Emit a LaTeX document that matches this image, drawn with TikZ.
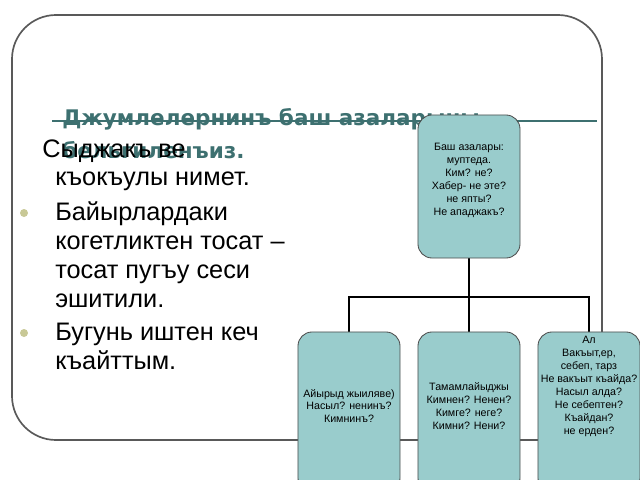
\documentclass[tikz,border=0pt]{standalone}
\usepackage{fontspec}
\setmainfont{Liberation Sans}
\newfontfamily\titlefont{DejaVu Sans}
\usetikzlibrary{positioning}
\definecolor{boxfill}{RGB}{153,204,204}
\definecolor{titleteal}{RGB}{61,112,112}
\definecolor{bulletkhaki}{RGB}{200,200,150}
\tikzset{
azabox/.style={draw=black!70, fill=boxfill, rounded corners=10pt, minimum width=2.55cm, line width=0.6pt},
azatext/.style={align=center, font=\fontsize{7.6}{9.2}\selectfont, inner sep=0pt},
bodytext/.style={anchor=base west, font=\fontsize{18}{20}\selectfont, inner sep=0pt},
titletext/.style={anchor=base west, text=titleteal, font=\titlefont\bfseries\fontsize{15.3}{20}\selectfont, inner sep=0pt},
link/.style={draw=black, line width=1.2pt},
}
\begin{document}
\begin{tikzpicture}[x=0.025cm, y=-0.025cm]
\useasboundingbox (0,0) rectangle (640,480);
% frame
\draw[black!65, line width=1.2pt, rounded corners=1.1cm] (12,15) rectangle (602,440);
\draw[titleteal, line width=1pt] (52,121) -- (597,121);
% title
\node[titletext] (title1) at (62,125) {Джумлелернинъ баш азаларыны};
\node[titletext] (title2) at (62,158) {бельгиленъиз.};
% body
\node[bodytext] (b1) at (42,157) {Сыджакъ ве};
\node[bodytext] (b2) at (55,185) {къокъулы нимет.};
\node[bodytext] (b3) at (55,220) {Байырлардаки};
\node[bodytext] (b4) at (55,249) {когетликтен тосат –};
\node[bodytext] (b5) at (55,278) {тосат пугъу  сеси};
\node[bodytext] (b6) at (55,307) {эшитили.};
\node[bodytext] (b7) at (55,340) {Бугунь иштен кеч};
\node[bodytext] (b8) at (55,369) {къайттым.};
\fill[bulletkhaki] (24,213) circle (4);
\fill[bulletkhaki] (24,333) circle (4);
% connectors
\coordinate (fork) at (469,297);
\draw[link] (469,258) -- (fork);
\draw[link] (349,332) -- (349,297) -- (589,297) -- (589,332);
\draw[link] (fork) -- (469,332);
% boxes
\node[azabox, minimum height=3.575cm] (main) at (469,186.5) {};
\node[azabox, minimum height=4cm] (left) at (349,412) {};
\node[azabox, minimum height=4cm] (mid) at (469,412) {};
\node[azabox, minimum height=4cm] (right) at (589,412) {};
\node[azatext, anchor=north] (maintext) at (469,143)
  {Баш азалары:\\муптеда.\\Ким? не?\\Хабер- не эте?\\не япты?\\Не ападжакъ?};
\node[azatext] (lefttext) at (349,406) {Айырыд жыиляве)\\Насыл? ненинъ?\\Кимнинъ?};
\node[azatext] (midtext) at (469,406) {Тамамлайыджы\\Кимнен? Ненен?\\Кимге? неге?\\Кимни? Нени?};
\node[azatext, anchor=north] (righttext) at (589,336)
  {Ал\\Вакъыт,ер,\\себеп, тарз\\Не  вакъыт къайда?\\Насыл алда?\\Не  себептен?\\Къайдан?\\не ерден?};
\end{tikzpicture}
\end{document}
